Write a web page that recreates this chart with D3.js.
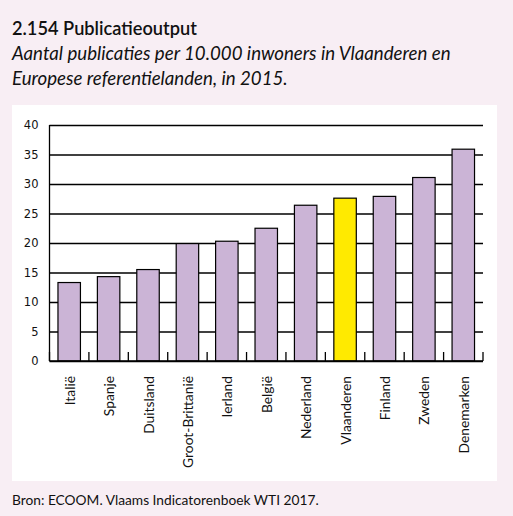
<!DOCTYPE html>
<html><head><meta charset="utf-8">
<script src="https://cdn.jsdelivr.net/npm/d3@7"></script>
<style>body{margin:0;background:#f8eef4;} svg{display:block;}</style>
</head><body>
<script>
const categories = ["Italië","Spanje","Duitsland","Groot-Brittanië","Ierland","België","Nederland","Vlaanderen","Finland","Zweden","Denemarken"];
const values = [13.3, 14.3, 15.5, 19.9, 20.3, 22.5, 26.4, 27.6, 27.9, 31.1, 35.9];
const highlight = ["Vlaanderen"];
const yTicks = [0,5,10,15,20,25,30,35,40];
const title = "2.154 Publicatieoutput";
const subtitle = ["Aantal publicaties per 10.000 inwoners in Vlaanderen en","Europese referentielanden, in 2015."];
const source = "Bron: ECOOM. Vlaams Indicatorenboek WTI 2017.";

const W = 513, H = 516;
const svg = d3.select("body").append("svg").attr("width", W).attr("height", H);
svg.append("rect").attr("width", W).attr("height", H).attr("fill", "#f8eef4");
svg.append("rect").attr("x", 12).attr("y", 105).attr("width", 485).attr("height", 376).attr("fill", "#ffffff");

const font = "Lato, 'Open Sans', sans-serif";
function fit(sel, target){ const l = sel.node().getComputedTextLength(); const fs = parseFloat(sel.attr("font-size")); sel.attr("font-size", fs*target/l); }

const t = svg.append("text").attr("x", 12).attr("y", 35).attr("font-family", font).attr("font-weight", 600).attr("font-size", 17).attr("fill", "#111").text(title);
fit(t, 185);
const s1 = svg.append("text").attr("x", 12).attr("y", 60).attr("font-family", font).attr("font-style", "italic").attr("font-size", 17).attr("fill", "#111").text(subtitle[0]);
fit(s1, 439);
const fsSub = s1.attr("font-size");
svg.append("text").attr("x", 12).attr("y", 85).attr("font-family", font).attr("font-style", "italic").attr("font-size", fsSub).attr("fill", "#111").text(subtitle[1]);
const src = svg.append("text").attr("x", 12).attr("y", 505).attr("font-family", font).attr("font-size", 14).attr("fill", "#111").text(source);
fit(src, 307);

const m = {left: 49.5, top: 125, right: 483, bottom: 361};
const x = d3.scaleBand().domain(categories).range([m.left, m.right]).paddingInner(0.43).paddingOuter(0.215);
const y = d3.scaleLinear().domain([0, 40]).range([m.bottom, m.top]);

// gridlines + y axis
const ya = svg.append("g").attr("transform", `translate(${m.left},0)`)
  .call(d3.axisLeft(y).tickValues(yTicks).tickSize(-(m.right - m.left)).tickPadding(11));
ya.select(".domain").remove();
ya.selectAll(".tick line").attr("stroke", "#000").attr("stroke-width", 1.3);
ya.selectAll(".tick text").attr("font-family", "'DejaVu Sans', Verdana, sans-serif").attr("font-size", 11.5).attr("fill", "#111");
svg.append("line").attr("x1", m.left).attr("x2", m.left).attr("y1", m.top).attr("y2", m.bottom).attr("stroke", "#000").attr("stroke-width", 1.3);

// bars
svg.append("g").selectAll("rect").data(categories).join("rect")
  .attr("x", d => x(d)).attr("width", x.bandwidth())
  .attr("y", (d,i) => y(values[i])).attr("height", (d,i) => y(0) - y(values[i]))
  .attr("fill", d => highlight.includes(d) ? "#ffea00" : "#cbb4d6")
  .attr("stroke", "#000").attr("stroke-width", 1.2);

// category boundary ticks
const step = x.step();
const bounds = d3.range(categories.length + 1).map(i => m.left + i * step);
svg.append("g").selectAll("line").data(bounds).join("line")
  .attr("x1", d => d).attr("x2", d => d).attr("y1", m.bottom - 9).attr("y2", m.bottom)
  .attr("stroke", "#000").attr("stroke-width", 1.3);
svg.append("line").attr("x1", m.left).attr("x2", m.right).attr("y1", m.bottom).attr("y2", m.bottom).attr("stroke", "#000").attr("stroke-width", 1.3);

// x labels
const xl = svg.append("g").selectAll("text").data(categories).join("text")
  .attr("transform", d => `translate(${x(d) + x.bandwidth()/2 + 5.5},376) rotate(-90)`)
  .attr("text-anchor", "end")
  .attr("font-family", font).attr("font-size", 14.5).attr("fill", "#111")
  .text(d => d);
const gb = xl.filter(d => d === "Groot-Brittanië");
const fsX = 14.5 * 92 / gb.node().getComputedTextLength();
xl.attr("font-size", fsX);
</script>
</body></html>
